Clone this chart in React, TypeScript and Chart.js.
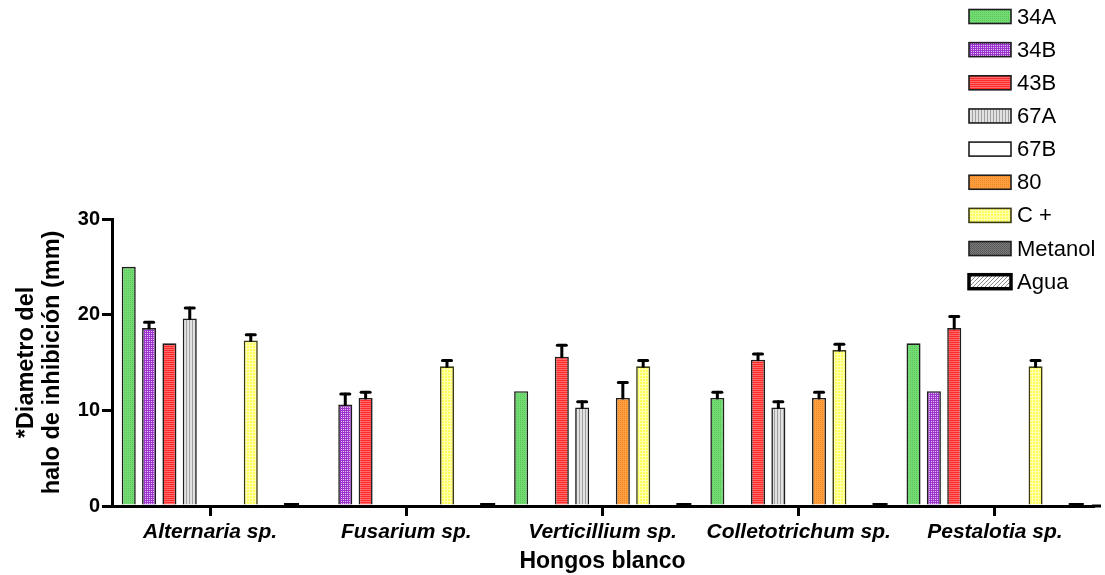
import React, { useEffect, useRef } from "react";
import { Chart, registerables } from "chart.js";
Chart.register(...registerables);

const categories = ["Alternaria sp.", "Fusarium sp.", "Verticillium sp.", "Colletotrichum sp.", "Pestalotia sp."];
const seriesNames = ["34A", "34B", "43B", "67A", "67B", "80", "C +", "Metanol", "Agua"];

const v34A = [25, 0, 12, 11.3, 17];
const e34A = [0, 0, 0, 0.6, 0];
const v34B = [18.6, 10.6, 0, 0, 12];
const e34B = [0.6, 1.1, 0, 0, 0];
const v43B = [17, 11.3, 15.6, 15.3, 18.6];
const e43B = [0, 0.6, 1.2, 0.6, 1.2];
const v67A = [19.6, 0, 10.3, 10.3, 0];
const e67A = [1.1, 0, 0.6, 0.6, 0];
const v67B = [0, 0, 0, 0, 0];
const e67B = [0, 0, 0, 0, 0];
const v80 = [0, 0, 11.3, 11.3, 0];
const e80 = [0, 0, 1.6, 0.6, 0];
const vCpos = [17.3, 14.6, 14.6, 16.3, 14.6];
const eCpos = [0.6, 0.6, 0.6, 0.6, 0.6];
const vMetanol = [0, 0, 0, 0, 0];
const eMetanol = [0, 0, 0, 0, 0];
const vAgua = [0, 0, 0, 0, 0];
const eAgua = [0, 0, 0, 0, 0];

const yTickValues = [0, 10, 20, 30];
const yTitle = ["*Diametro del", "halo de inhibición (mm)"];
const xTitle = "Hongos blanco";

const FONT = "'Liberation Sans', Arial, Helvetica, sans-serif";

type Painter = (ctx: CanvasRenderingContext2D) => void;
function makePattern(w: number, h: number, draw: Painter): CanvasPattern | string {
  const c = document.createElement("canvas");
  c.width = w;
  c.height = h;
  const ctx = c.getContext("2d");
  if (!ctx) return "#999";
  draw(ctx);
  return ctx.createPattern(c, "repeat") || "#999";
}
function px(ctx: CanvasRenderingContext2D, x: number, y: number, col: string) {
  ctx.fillStyle = col;
  ctx.fillRect(x, y, 1, 1);
}

function buildFills() {
  const green = makePattern(2, 2, (c) => {
    c.fillStyle = "#72DC72"; c.fillRect(0, 0, 2, 2);
    px(c, 0, 0, "#5CC85C");
  });
  const purple = makePattern(2, 2, (c) => {
    c.fillStyle = "#9A34CC"; c.fillRect(0, 0, 2, 2);
    px(c, 1, 1, "#E4C4F4");
  });
  const red = makePattern(1, 2, (c) => {
    c.fillStyle = "#FF2B2B"; c.fillRect(0, 0, 1, 2);
    px(c, 0, 1, "#FF6A6A");
  });
  const grey = makePattern(3, 1, (c) => {
    c.fillStyle = "#E2E2E2"; c.fillRect(0, 0, 3, 1);
    px(c, 0, 0, "#A0A0A0");
  });
  const white = "#FFFFFF";
  const orange = makePattern(2, 2, (c) => {
    c.fillStyle = "#FF9E3D"; c.fillRect(0, 0, 2, 2);
    px(c, 0, 0, "#F0862A");
  });
  const yellow = makePattern(3, 3, (c) => {
    c.fillStyle = "#FFFF5A"; c.fillRect(0, 0, 3, 3);
    c.fillStyle = "#FFFFB0"; c.fillRect(0, 0, 3, 1); c.fillRect(0, 0, 1, 3);
  });
  const dark = makePattern(2, 2, (c) => {
    c.fillStyle = "#7A7A7A"; c.fillRect(0, 0, 2, 2);
    px(c, 0, 0, "#555555");
    px(c, 1, 1, "#606060");
  });
  const hatch = makePattern(4, 4, (c) => {
    c.fillStyle = "#FFFFFF"; c.fillRect(0, 0, 4, 4);
    for (let i = 0; i < 4; i++) px(c, i, 3 - i, "#8A8A8A");
  });
  return [green, purple, red, grey, white, orange, yellow, dark, hatch];
}

const values = [v34A, v34B, v43B, v67A, v67B, v80, vCpos, vMetanol, vAgua];
const errors = [e34A, e34B, e43B, e67A, e67B, e80, eCpos, eMetanol, eAgua];
const borders = ["#1E1E1E", "#1E1E1E", "#1E1E1E", "#1E1E1E", "#1E1E1E", "#1E1E1E", "#3A3A10", "#1E1E1E", "#000000"];

const errorBarPlugin = {
  id: "errorBars",
  afterDatasetsDraw(chart: any) {
    const ctx = chart.ctx;
    const y = chart.scales.y;
    ctx.save();
    ctx.strokeStyle = "#000";
    ctx.lineWidth = 3;
    ctx.lineCap = "round";
    chart.data.datasets.forEach((ds: any, i: number) => {
      const meta = chart.getDatasetMeta(i);
      meta.data.forEach((el: any, j: number) => {
        const err = ds.errors ? ds.errors[j] : 0;
        if (!err) return;
        const top = y.getPixelForValue(ds.data[j] + err);
        ctx.beginPath();
        ctx.moveTo(el.x, el.y);
        ctx.lineTo(el.x, top);
        ctx.stroke();
        ctx.beginPath();
        ctx.moveTo(el.x - 4.5, top);
        ctx.lineTo(el.x + 4.5, top);
        ctx.stroke();
      });
    });
    ctx.restore();
  },
};

const extrasPlugin = {
  id: "extras",
  afterDraw(chart: any) {
    const ctx = chart.ctx;
    const area = chart.chartArea;
    ctx.save();
    // extend x axis line to the right
    ctx.strokeStyle = "#000";
    ctx.lineWidth = 3;
    ctx.beginPath();
    ctx.moveTo(area.right - 1, area.bottom);
    ctx.lineTo(1101, area.bottom);
    ctx.stroke();
    // Agua zero marks (thick dark lines on the axis)
    const meta = chart.getDatasetMeta(8);
    ctx.fillStyle = "#000";
    meta.data.forEach((el: any) => {
      const w = el.width;
      ctx.fillRect(el.x - w / 2 - 0.5, area.bottom - 3, w + 1, 5);
    });
    // legend
    const x0 = 969;
    const boxW = 42;
    const boxH = 14;
    chart.data.datasets.forEach((ds: any, i: number) => {
      const cy = 16.5 + i * 33.15;
      ctx.fillStyle = ds.legendFill;
      ctx.fillRect(x0, cy - boxH / 2, boxW, boxH);
      ctx.strokeStyle = ds.borderColor;
      ctx.lineWidth = i === 8 ? 3.5 : 1.6;
      ctx.strokeRect(x0, cy - boxH / 2, boxW, boxH);
      ctx.fillStyle = "#000";
      ctx.font = `22px ${FONT}`;
      ctx.textBaseline = "middle";
      ctx.textAlign = "left";
      ctx.fillText(ds.label, 1017, cy + 1);
    });
    ctx.restore();
  },
};

export default function App() {
  const ref = useRef<HTMLCanvasElement | null>(null);
  useEffect(() => {
    if (!ref.current) return;
    const fills = buildFills();
    const datasets = seriesNames.map((name, i) => ({
      label: name,
      data: values[i],
      errors: errors[i],
      backgroundColor: fills[i],
      legendFill: fills[i],
      borderColor: borders[i],
      borderWidth: 1.6,
      categoryPercentage: 0.933,
      barPercentage: 0.69,
    }));
    const chart = new Chart(ref.current, {
      type: "bar",
      data: { labels: categories, datasets: datasets as any },
      plugins: [errorBarPlugin, extrasPlugin],
      options: {
        animation: false,
        responsive: false,
        events: [],
        layout: { padding: { top: 219, right: 12, left: 0, bottom: 0 } },
        plugins: { legend: { display: false }, tooltip: { enabled: false } },
        scales: {
          x: {
            offset: true,
            grid: { offset: false, drawOnChartArea: false, drawTicks: true, tickLength: 10, color: "#000", lineWidth: 3 },
            border: { display: true, color: "#000", width: 3 },
            ticks: { color: "#000", padding: 4, font: { family: FONT, size: 21, weight: "bold", style: "italic" } },
            title: { display: true, text: xTitle, color: "#000", padding: { top: 0, bottom: 0 }, font: { family: FONT, size: 23, weight: "bold" } },
            afterFit: (s: any) => { s.height = 69; },
          },
          y: {
            min: 0,
            max: 30,
            afterBuildTicks: (s: any) => { s.ticks = yTickValues.map((v) => ({ value: v })); },
            grid: { drawOnChartArea: false, drawTicks: true, tickLength: 10, color: "#000", lineWidth: 3 },
            border: { display: true, color: "#000", width: 3 },
            ticks: { color: "#000", padding: 2, font: { family: FONT, size: 20, weight: "bold" } },
            title: { display: true, text: yTitle, color: "#000", padding: { top: 13, bottom: 0 }, font: { family: FONT, size: 23.5, weight: "bold", lineHeight: 1.12 } },
            afterFit: (s: any) => { s.width = 112; },
          },
        },
      } as any,
    });
    return () => chart.destroy();
  }, []);
  return (
    <div style={{ position: "fixed", left: 0, top: 0, width: 1105, height: 575, background: "#fff" }}>
      <canvas ref={ref} width={1105} height={575} style={{ display: "block", width: 1105, height: 575 }} />
    </div>
  );
}
